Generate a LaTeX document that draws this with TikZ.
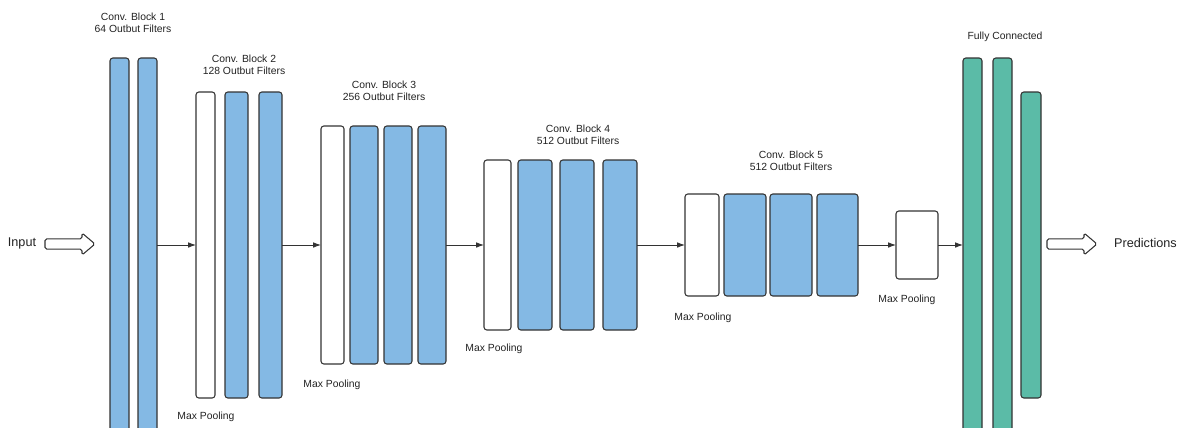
\documentclass[tikz,border=0pt]{standalone}
\usepackage{fontspec}
\setmainfont{Liberation Sans}
\usetikzlibrary{arrows.meta}
\definecolor{barblue}{HTML}{84B9E4}
\definecolor{bargreen}{HTML}{5BBBA7}
\definecolor{edge}{HTML}{333333}
\definecolor{txt}{HTML}{222222}
\newcommand\mybar[6]{%
  \pgfmathsetmacro\bw{(#5-#3)*0.02}%
  \pgfmathsetmacro\bh{(#6-#4)*0.02}%
  \node[#1, minimum width=\bw cm, minimum height=\bh cm] (#2) at ({(#3+#5)/2},{(#4+#6)/2}) {};}
\newcommand\hollowarrow[1]{% #1 = x of tail
  \draw[hollow] (#1,238.8) -- ++(37,0) -- ++(0,-5.8) -- ++(13,11) -- ++(-13,11) -- ++(0,-5.8) -- ++(-37,0) -- cycle;}
\tikzset{
  barbase/.style={draw=edge, line width=0.6pt, rounded corners=1.6pt, inner sep=0pt, outer sep=0pt, rectangle},
  bluebar/.style={barbase, fill=barblue},
  whitebar/.style={barbase, fill=white},
  greenbar/.style={barbase, fill=bargreen},
  conn/.style={draw=edge, line width=0.5pt, -{Latex[length=4.5pt,width=3.2pt]}},
  lbl/.style={font=\fontsize{5.9}{7}\selectfont, text=txt, align=center, inner sep=0pt},
  biglbl/.style={font=\fontsize{7.2}{8.5}\selectfont, text=txt, inner sep=0pt},
  hollow/.style={draw=edge, fill=white, line width=0.6pt, rounded corners=1pt, line join=round}
}
\begin{document}
\begin{tikzpicture}[x=0.02cm,y=-0.02cm]
\useasboundingbox (0,0) rectangle (1184,427);
\clip (0,0) rectangle (1184,427);
% Block 1
\mybar{bluebar}{b1a}{110}{58}{129}{432}
\mybar{bluebar}{b1b}{138}{58}{157}{432}
% Block 2
\mybar{whitebar}{p1}{196}{92}{215}{398}
\mybar{bluebar}{b2a}{225}{92}{248}{398}
\mybar{bluebar}{b2b}{259}{92}{282}{398}
% Block 3
\mybar{whitebar}{p2}{321}{126}{344}{364}
\mybar{bluebar}{b3a}{350}{126}{378}{364}
\mybar{bluebar}{b3b}{384}{126}{412}{364}
\mybar{bluebar}{b3c}{418}{126}{446}{364}
% Block 4
\mybar{whitebar}{p3}{484}{160}{511}{330}
\mybar{bluebar}{b4a}{518}{160}{552}{330}
\mybar{bluebar}{b4b}{560}{160}{594}{330}
\mybar{bluebar}{b4c}{603}{160}{637}{330}
% Block 5
\mybar{whitebar}{p4}{685}{194}{719}{296}
\mybar{bluebar}{b5a}{724}{194}{766}{296}
\mybar{bluebar}{b5b}{770}{194}{812}{296}
\mybar{bluebar}{b5c}{817}{194}{858}{296}
% final pooling
\mybar{whitebar}{p5}{896}{211}{938}{279}
% fully connected
\mybar{greenbar}{fc1}{963}{58}{982}{432}
\mybar{greenbar}{fc2}{993}{58}{1012}{432}
\mybar{greenbar}{fc3}{1021}{92}{1041}{398}
% connectors
\draw[conn] (b1b.east) -- (p1.west);
\draw[conn] (b2b.east) -- (p2.west);
\draw[conn] (b3c.east) -- (p3.west);
\draw[conn] (b4c.east) -- (p4.west);
\draw[conn] (b5c.east) -- (p5.west);
\draw[conn] (p5.east) -- (fc1.west);
% input / output
\node[biglbl] (inp) at (22,243) {Input};
\hollowarrow{45}
\hollowarrow{1047}
\node[biglbl] (pred) at (1145.5,243) {Predictions};
% labels
\node[lbl] (l1) at (133,23) {Conv. Block 1\\64 Outbut Filters};
\node[lbl] (l2) at (244,65) {Conv. Block 2\\128 Outbut Filters};
\node[lbl] (l3) at (384,91) {Conv. Block 3\\256 Outbut Filters};
\node[lbl] (l4) at (578,135) {Conv. Block 4\\512 Outbut Filters};
\node[lbl] (l5) at (791,160.5) {Conv. Block 5\\512 Outbut Filters};
\node[lbl] (lfc) at (1005,37) {Fully Connected};
\node[lbl] (m1) at (206,417) {Max Pooling};
\node[lbl] (m2) at (332,385) {Max Pooling};
\node[lbl] (m3) at (494,349) {Max Pooling};
\node[lbl] (m4) at (703,318) {Max Pooling};
\node[lbl] (m5) at (907,300) {Max Pooling};
\end{tikzpicture}
\end{document}
